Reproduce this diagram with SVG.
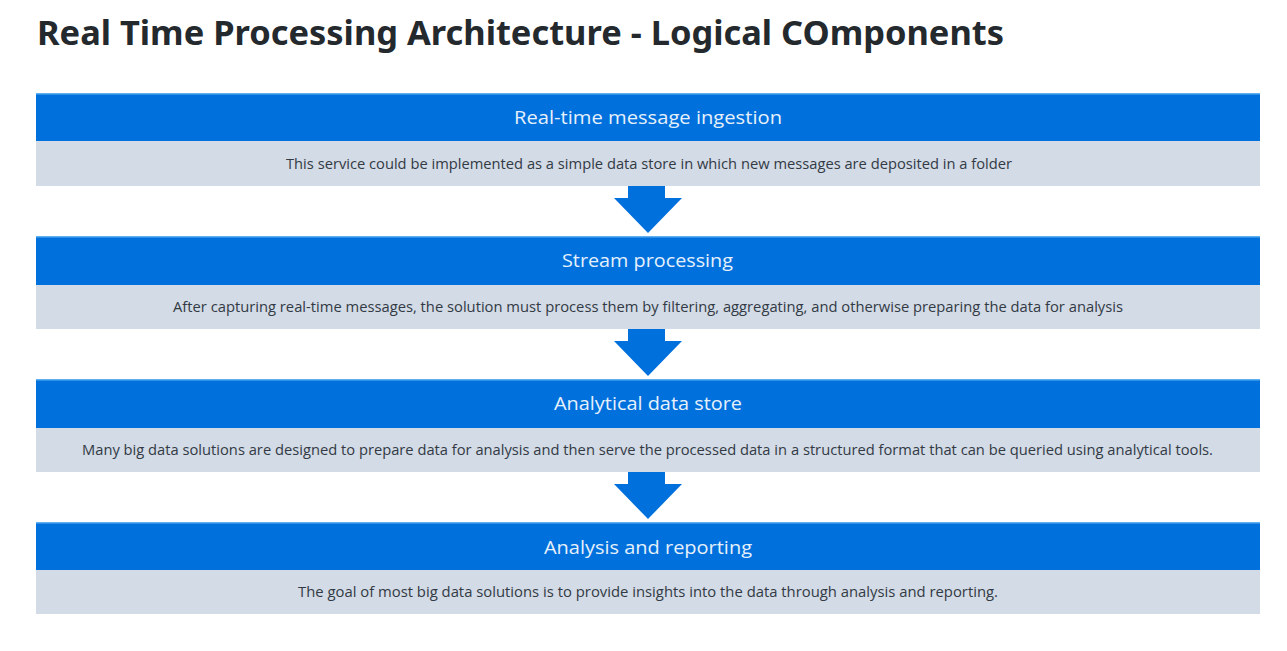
<svg xmlns="http://www.w3.org/2000/svg" width="1287" height="651" viewBox="0 0 1287 651">
<style>
.title{font-family:"Noto Sans","Open Sans","Liberation Sans",sans-serif;font-weight:bold;font-size:34px;fill:#24292e}
.hdr{fill:#0070dc}
.body{fill:#d2dbe6}
.edge{fill:#5fb0f0}
.ht{font-family:"Open Sans","Noto Sans","Liberation Sans",sans-serif;font-size:19px;fill:#e6f0fb;text-anchor:middle}
.bt{font-family:"Open Sans","Noto Sans","Liberation Sans",sans-serif;font-size:14.5px;fill:#333a44;text-anchor:middle}
.arrow{fill:#0070dc}
</style>
<rect width="1287" height="651" fill="#ffffff"/>
<text class="title" x="37" y="45" textLength="967" lengthAdjust="spacingAndGlyphs">Real Time Processing Architecture - Logical COmponents</text>

<g id="node-ingestion">
<rect class="hdr" x="36" y="93" width="1224" height="48"/>
<rect class="edge" x="36" y="93" width="1224" height="1.5"/>
<rect class="body" x="36" y="141" width="1224" height="45"/>
<text class="ht" x="648" y="124" textLength="268" lengthAdjust="spacingAndGlyphs">Real-time message ingestion</text>
<text class="bt" x="649" y="169" textLength="726" lengthAdjust="spacingAndGlyphs">This service could be implemented as a simple data store in which new messages are deposited in a folder</text>
</g>

<g id="node-stream">
<rect class="hdr" x="36" y="236" width="1224" height="49"/>
<rect class="edge" x="36" y="236" width="1224" height="1.5"/>
<rect class="body" x="36" y="285" width="1224" height="44"/>
<text class="ht" x="647.5" y="267" textLength="171" lengthAdjust="spacingAndGlyphs">Stream processing</text>
<text class="bt" x="648" y="312" textLength="950" lengthAdjust="spacingAndGlyphs">After capturing real-time messages, the solution must process them by filtering, aggregating, and otherwise preparing the data for analysis</text>
</g>

<g id="node-store">
<rect class="hdr" x="36" y="379" width="1224" height="49"/>
<rect class="edge" x="36" y="379" width="1224" height="1.5"/>
<rect class="body" x="36" y="428" width="1224" height="44"/>
<text class="ht" x="648" y="410" textLength="188" lengthAdjust="spacingAndGlyphs">Analytical data store</text>
<text class="bt" x="647.5" y="455" textLength="1131" lengthAdjust="spacingAndGlyphs">Many big data solutions are designed to prepare data for analysis and then serve the processed data in a structured format that can be queried using analytical tools.</text>
</g>

<g id="node-reporting">
<rect class="hdr" x="36" y="522" width="1224" height="48"/>
<rect class="edge" x="36" y="522" width="1224" height="1.5"/>
<rect class="body" x="36" y="570" width="1224" height="44"/>
<text class="ht" x="648" y="554" textLength="208" lengthAdjust="spacingAndGlyphs">Analysis and reporting</text>
<text class="bt" x="648" y="597" textLength="700" lengthAdjust="spacingAndGlyphs">The goal of most big data solutions is to provide insights into the data through analysis and reporting.</text>
</g>

<g id="connectors">
<polygon class="arrow" points="628,186 665,186 665,198 682,198 648,233 614,198 628,198"/>
<polygon class="arrow" points="628,329 665,329 665,341 682,341 648,376 614,341 628,341"/>
<polygon class="arrow" points="628,472 665,472 665,484 682,484 648,519 614,484 628,484"/>
</g>
</svg>
